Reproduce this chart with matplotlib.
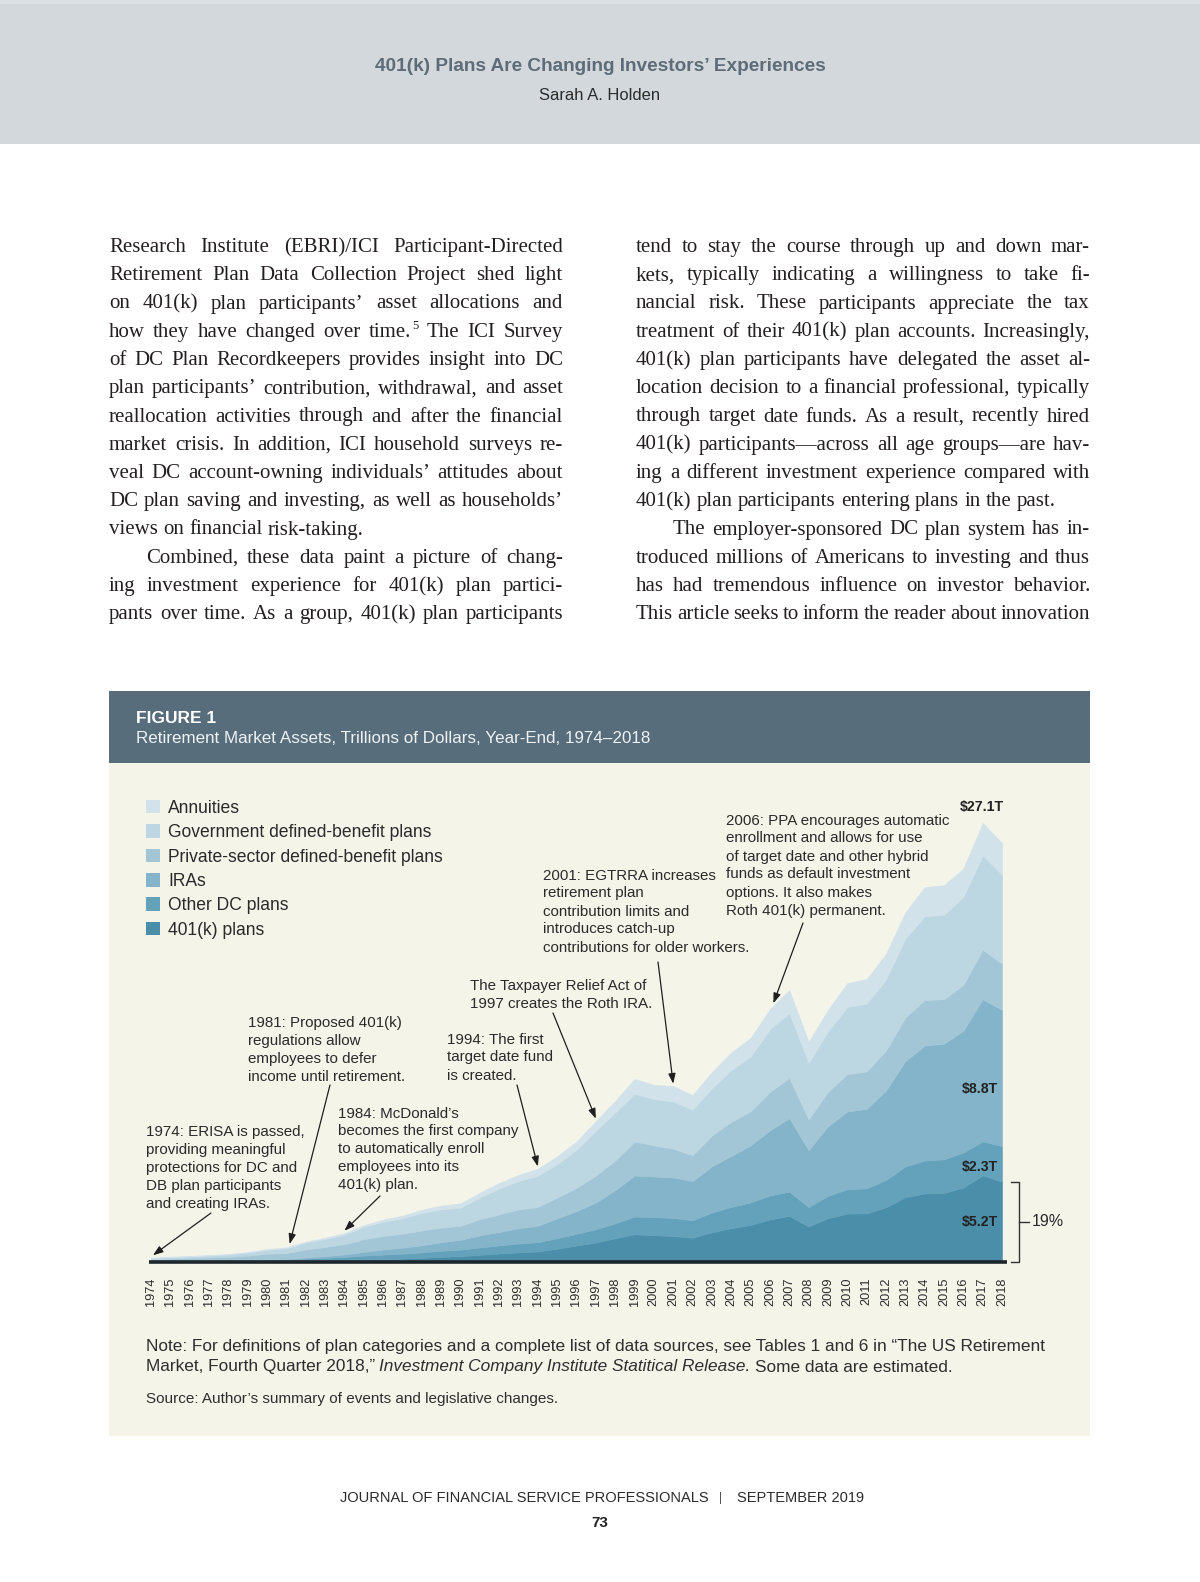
"""
Page recreation: Figure 1, retirement market assets 1974-2018
"""

import numpy as np
import matplotlib
matplotlib.use("Agg")
import matplotlib.pyplot as plt
from matplotlib.patches import Rectangle
from matplotlib.font_manager import FontProperties, findfont

W, H = 1200, 1582

# ---- chart data (trillions of dollars, year-end) ----
years = list(range(1974, 2019))
k401 = [0.00, 0.00, 0.00, 0.00, 0.00, 0.00, 0.00, 0.00, 0.02, 0.05,
        0.09, 0.14, 0.18, 0.22, 0.27, 0.33, 0.38, 0.46, 0.55, 0.62,
        0.68, 0.86, 1.06, 1.26, 1.54, 1.79, 1.73, 1.68, 1.57, 1.92,
        2.19, 2.40, 2.75, 2.98, 2.30, 2.83, 3.13, 3.14, 3.54, 4.19,
        4.43, 4.47, 4.81, 5.60, 5.20]
other_dc = [0.05, 0.06, 0.07, 0.08, 0.09, 0.11, 0.14, 0.16, 0.20, 0.22,
            0.24, 0.27, 0.30, 0.32, 0.35, 0.40, 0.42, 0.48, 0.52, 0.57,
            0.60, 0.68, 0.76, 0.86, 0.96, 1.15, 1.17, 1.17, 1.13, 1.28,
            1.37, 1.45, 1.55, 1.57, 1.25, 1.45, 1.58, 1.62, 1.76, 1.99,
            2.13, 2.17, 2.27, 2.20, 2.30]
iras = [0.00, 0.00, 0.01, 0.01, 0.02, 0.02, 0.03, 0.04, 0.07, 0.11,
        0.16, 0.24, 0.33, 0.39, 0.46, 0.55, 0.64, 0.78, 0.87, 0.99,
        1.06, 1.29, 1.47, 1.73, 2.15, 2.65, 2.63, 2.62, 2.53, 2.99,
        3.30, 3.70, 4.21, 4.75, 3.68, 4.49, 5.03, 5.15, 5.79, 6.82,
        7.44, 7.48, 7.88, 9.20, 8.80]
private_db = [0.13, 0.16, 0.18, 0.20, 0.22, 0.28, 0.36, 0.38, 0.52, 0.59,
              0.66, 0.82, 0.88, 0.90, 0.96, 0.95, 0.90, 1.05, 1.14, 1.22,
              1.22, 1.34, 1.50, 1.75, 1.91, 2.20, 2.01, 1.86, 1.67, 2.00,
              2.20, 2.20, 2.50, 2.60, 1.99, 2.24, 2.41, 2.42, 2.59, 2.81,
              2.95, 2.88, 2.96, 3.20, 3.00]
gov_db = [0.07, 0.09, 0.10, 0.13, 0.15, 0.20, 0.26, 0.31, 0.45, 0.52,
          0.62, 0.81, 0.91, 1.00, 1.14, 1.18, 1.17, 1.40, 1.67, 1.84,
          2.02, 2.17, 2.46, 2.90, 3.11, 3.10, 3.00, 3.05, 2.95, 3.05,
          3.35, 3.55, 4.05, 4.20, 3.67, 3.90, 4.34, 4.37, 4.60, 5.11,
          5.40, 5.47, 5.68, 6.10, 5.75]
annuities = [0.03, 0.03, 0.03, 0.03, 0.04, 0.04, 0.05, 0.06, 0.06, 0.08,
             0.10, 0.11, 0.14, 0.17, 0.20, 0.24, 0.28, 0.32, 0.36, 0.40,
             0.45, 0.50, 0.55, 0.62, 0.75, 0.95, 0.92, 1.00, 0.95, 1.05,
             1.15, 1.20, 1.30, 1.50, 1.35, 1.40, 1.55, 1.60, 1.65, 1.70,
             1.90, 1.90, 1.85, 2.10, 2.05]

series_labels = ["401(k) plans", "Other DC plans", "IRAs",
                 "Private-sector defined-benefit plans",
                 "Government defined-benefit plans", "Annuities"]
series_colors = ["#4a8eaa", "#64a1bb", "#84b4ca", "#a3c6d7", "#bcd6e2", "#d2e2eb"]

event_years = [1974, 1981, 1984, 1994, 1997, 2001, 2006]
event_texts = [
    ["1974: ERISA is passed,", "providing meaningful", "protections for DC and",
     "DB plan participants", "and creating IRAs."],
    ["1981: Proposed 401(k)", "regulations allow", "employees to defer",
     "income until retirement."],
    ["1984: McDonald\u2019s", "becomes the first company", "to automatically enroll",
     "employees into its", "401(k) plan."],
    ["1994: The first", "target date fund", "is created."],
    ["The Taxpayer Relief Act of", "1997 creates the Roth IRA."],
    ["2001: EGTRRA increases", "retirement plan", "contribution limits and",
     "introduces catch-up", "contributions for older workers."],
    ["2006: PPA encourages automatic", "enrollment and allows for use",
     "of target date and other hybrid", "funds as default investment",
     "options. It also makes", "Roth 401(k) permanent."],
]

left_lines = [
    "Research Institute (EBRI)/ICI Participant-Directed",
    "Retirement Plan Data Collection Project shed light",
    "on 401(k) plan participants\u2019 asset allocations and",
    "how they have changed over time.^5 The ICI Survey",
    "of DC Plan Recordkeepers provides insight into DC",
    "plan participants\u2019 contribution, withdrawal, and asset",
    "reallocation activities through and after the financial",
    "market crisis. In addition, ICI household surveys re-",
    "veal DC account-owning individuals\u2019 attitudes about",
    "DC plan saving and investing, as well as households\u2019",
    "views on financial risk-taking.",
    "Combined, these data paint a picture of chang-",
    "ing investment experience for 401(k) plan partici-",
    "pants over time. As a group, 401(k) plan participants",
]
left_par_end = [10]
left_indent = [11]
right_lines = [
    "tend to stay the course through up and down mar-",
    "kets, typically indicating a willingness to take fi-",
    "nancial risk. These participants appreciate the tax",
    "treatment of their 401(k) plan accounts. Increasingly,",
    "401(k) plan participants have delegated the asset al-",
    "location decision to a financial professional, typically",
    "through target date funds. As a result, recently hired",
    "401(k) participants\u2014across all age groups\u2014are hav-",
    "ing a different investment experience compared with",
    "401(k) plan participants entering plans in the past.",
    "The employer-sponsored DC plan system has in-",
    "troduced millions of Americans to investing and thus",
    "has had tremendous influence on investor behavior.",
    "This article seeks to inform the reader about innovation",
]
right_par_end = [9]
right_indent = [10]


def has_font(name):
    try:
        findfont(FontProperties(family=name), fallback_to_default=False)
        return True
    except ValueError:
        return False


SANS = "Liberation Sans"
NARROW = "Liberation Sans Narrow" if has_font("Liberation Sans Narrow") else SANS
SERIF = "Liberation Serif"

plt.rcParams["font.family"] = [SANS, "DejaVu Sans"]

fig = plt.figure(figsize=(W / 100, H / 100), dpi=100)
renderer = fig.canvas.get_renderer()


def fx(x):
    return x / W


def fy(y):
    return 1 - y / H


def fp(family, size, weight="normal", style="normal"):
    return FontProperties(family=family, size=size, weight=weight, style=style)


def text_width(s, prop):
    w, _, _ = renderer.get_text_width_height_descent(s, prop, ismath=False)
    return w


def space_width(prop):
    return text_width("n n", prop) - text_width("nn", prop)


def fit(s, family, width, weight="normal", style="normal"):
    """font size (pt) that makes s exactly width pixels wide"""
    return 10 * width / text_width(s, fp(family, 10, weight, style))


def put(x, y, s, prop, color, ha="left"):
    return fig.text(fx(x), fy(y), s, fontproperties=prop, color=color,
                    ha=ha, va="baseline")


def rect(x0, y0, x1, y1, color):
    fig.patches.append(Rectangle((fx(x0), fy(y1)), (x1 - x0) / W, (y1 - y0) / H,
                                 transform=fig.transFigure, facecolor=color,
                                 edgecolor="none", zorder=-5))


# ---- page header band ----
rect(0, 0, W, 144, "#d3d8dc")
rect(0, 0, W, 4, "#dde1e4")
title = "401(k) Plans Are Changing Investors\u2019 Experiences"
put(600, 71, title, fp(NARROW, fit(title, NARROW, 451, "bold"), "bold"), "#5d6c78", "center")
author = "Sarah A. Holden"
put(600, 100, author, fp(NARROW, fit(author, NARROW, 121)), "#2b2b2b", "center")


# ---- justified body text ----
# size chosen so the tightest line still fits with spaces at 80% of normal
_p10 = fp(SERIF, 10)
body_size = 10 * 454 / max(
    sum(text_width(w.replace("^5", ""), _p10) for w in ln.split())
    + 0.8 * space_width(_p10) * (len(ln.split()) - 1)
    for ln in left_lines + right_lines)
body_prop = fp(SERIF, body_size)
sup_prop = fp(SERIF, body_size * 0.6)
BODY = "#231f20"


def word_width(w):
    if "^" in w:
        main, sup = w.split("^")
        return text_width(main, body_prop) + 1 + text_width(sup, sup_prop)
    return text_width(w, body_prop)


def draw_word(x, y, w):
    if "^" in w:
        main, sup = w.split("^")
        put(x, y, main, body_prop, BODY)
        put(x + text_width(main, body_prop) + 1, y - 8, sup, sup_prop, BODY)
    else:
        put(x, y, w, body_prop, BODY)


def draw_column(lines, par_end, indent, x0, x1, y0, dy):
    sp = space_width(body_prop)
    for i, line in enumerate(lines):
        words = line.split()
        widths = [word_width(w) for w in words]
        left = x0 + (37 if i in indent else 0)
        if i in par_end or len(words) < 2:
            gap = sp
        else:
            gap = (x1 - left - sum(widths)) / (len(words) - 1)
        x = left
        for w, wd in zip(words, widths):
            draw_word(x, y0 + i * dy, w)
            x += wd + gap


draw_column(left_lines, left_par_end, left_indent, 109, 563, 252, 28.25)
draw_column(right_lines, right_par_end, right_indent, 636, 1090, 252, 28.25)


# ---- figure box ----
rect(109, 691, 1090, 763, "#576d7b")
rect(109, 763, 1090, 1436, "#f4f4e9")
put(136, 722.5, "FIGURE 1", fp(SANS, fit("FIGURE 1", SANS, 80, "bold"), "bold"), "white")
subtitle = "Retirement Market Assets, Trillions of Dollars, Year-End, 1974\u20132018"
put(136, 743, subtitle, fp(SANS, fit(subtitle, SANS, 514)), "#eef2f4")

# legend
leg_prop = fp(SANS, fit(series_labels[3], SANS, 277))
for i, (lab, col) in enumerate(zip(series_labels[::-1], series_colors[::-1])):
    cy = 806.5 + i * 24.4
    rect(146, cy - 6.8, 159.5, cy + 6.8, col)
    put(168, cy + 6.3, lab, leg_prop, "#2a2a2a")

# ---- the chart ----
PX_PER_T = 15.46
ax = fig.add_axes([fx(151), fy(1262), (1002 - 151) / W, 30 * PX_PER_T / H])
ax.set_zorder(2)
layers = [k401, other_dc, iras, private_db, gov_db, annuities]
polys = ax.stackplot(years, *layers, colors=series_colors, linewidth=0)
for p, c in zip(polys, series_colors):
    p.set_edgecolor(c)
    p.set_linewidth(0.4)
total = np.sum(np.array(layers), axis=0)

ax.set_xlim(years[0], years[-1])
ax.set_ylim(0, 30)
ax.patch.set_alpha(0)
for s in ax.spines.values():
    s.set_visible(False)
ax.set_yticks([])
ax.set_xticks(years)
ax.set_xticklabels([str(y) for y in years], rotation=90, fontsize=9.2,
                   color="#2b2b2b", family=SANS)
ax.tick_params(axis="x", length=0, pad=11)
ax.plot([years[0] - 0.1, years[-1] + 0.25], [0, 0], color="#1d262c", lw=2.6,
        clip_on=False, solid_capstyle="butt", zorder=5)

# value labels on the right
val_prop = fp(NARROW, 10.2 if NARROW == SANS else 11.5, "bold")
ax.text(years[-1] + 0.1, total[-1] + 2.3, f"${total[-1]:.1f}T", fontproperties=val_prop,
        color="#222", ha="right", va="center")
bands = [(0, k401[-1], 0.5), (k401[-1], other_dc[-1], 0.4),
         (k401[-1] + other_dc[-1], iras[-1], 0.42)]
for base, val, frac in bands:
    ax.text(years[-1] - 0.2, base + val * frac, f"${val:.1f}T", fontproperties=val_prop,
            color="#222", ha="right", va="center")

# bracket for the 401(k) share
bx = years[-1] + 0.88
ax.plot([bx - 0.42, bx, bx, bx - 0.42], [k401[-1], k401[-1], 0, 0], color="#333",
        lw=1.0, clip_on=False)
ax.plot([bx, bx + 0.5], [k401[-1] / 2] * 2, color="#333", lw=1.0, clip_on=False)
ax.text(bx + 0.65, k401[-1] / 2, f"{100 * k401[-1] / total[-1]:.0f}%", fontsize=11.5,
        color="#2a2a2a", ha="left", va="center", family=SANS)

# event annotations
ann_prop = fp(SANS, fit(event_texts[2][1], SANS, 182))
text_pos = [(145.5, 1131), (247.5, 1022), (338, 1112.5), (447, 1038.5),
            (469.5, 985), (543, 874.5), (726.5, 819.5)]
tail_pos = [(211, 1213), (330, 1085), (380, 1196), (517, 1085),
            (553, 1013), (658, 962), (803, 923)]
tip_shift = [0.1, 0.17, 0.0, 0.0, 0.0, 0.0, 0.18]
for yr, lines, (tx, ty), (sx, sy), dx in zip(event_years, event_texts, text_pos,
                                            tail_pos, tip_shift):
    for j, ln in enumerate(lines):
        put(tx, ty + 5 + j * 18, ln, ann_prop, "#2a2a2a")
    xt = yr + dx
    yt = np.interp(xt, years, total) + 0.15
    ax.annotate("", xy=(xt, yt), xycoords="data", xytext=(fx(sx), fy(sy)),
                textcoords="figure fraction", annotation_clip=False,
                arrowprops=dict(arrowstyle="-|>,head_length=0.5,head_width=0.18",
                                color="#1f1f1f", lw=0.9, mutation_scale=12,
                                shrinkA=0, shrinkB=0))

# note and source
note1 = ("Note: For definitions of plan categories and a complete list of data sources, "
         "see Tables 1 and 6 in \u201cThe US Retirement")
note_size = fit(note1, NARROW, 897)
note_prop = fp(NARROW, note_size)
note_it = fp(NARROW, note_size, style="italic")
put(145.5, 1351.5, note1, note_prop, "#2e2e2e")
x = 145.5
for run, prop in [("Market, Fourth Quarter 2018,\u201d", note_prop),
                  ("Investment Company Institute Statitical Release.", note_it),
                  ("Some data are estimated.", note_prop)]:
    put(x, 1371.5, run, prop, "#2e2e2e")
    x += text_width(run, prop) + space_width(prop)
source = "Source: Author\u2019s summary of events and legislative changes."
put(145.5, 1402.5, source, fp(NARROW, fit(source, NARROW, 415)), "#2e2e2e")

# ---- footer ----
journal = "JOURNAL OF FINANCIAL SERVICE PROFESSIONALS"
foot_prop = fp(NARROW, fit(journal, NARROW, 366))
put(340, 1501.5, journal, foot_prop, "#2b2b2b")
put(721, 1501.5, "|", fp(NARROW, foot_prop.get_size() * 0.8), "#555555", "center")
put(737, 1501.5, "SEPTEMBER 2019", foot_prop, "#2b2b2b")
put(600, 1527, "73", fp(SANS, 11, "bold"), "#222222", "center")

fig.savefig("out.png", dpi=100, facecolor="white")
